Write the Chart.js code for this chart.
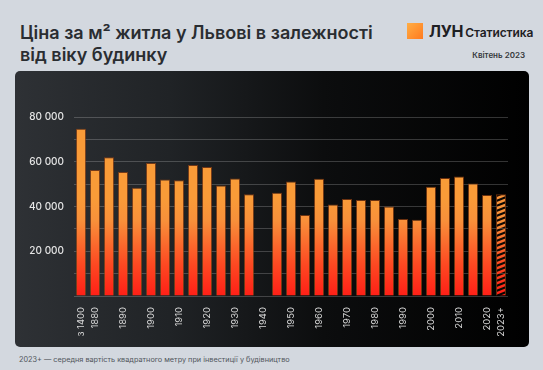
<!DOCTYPE html>
<html>
<head>
<meta charset="utf-8">
<script src="https://cdn.jsdelivr.net/npm/chart.js@4/dist/chart.umd.min.js"></script>
<style>
  body { margin: 0; width: 543px; height: 370px; background: #d3d8df; font-family: Inter, "Noto Sans", sans-serif; position: relative; overflow: hidden; }
  .title { position: absolute; left: 20px; top: 22px; font-size: 18px; font-weight: 600; line-height: 22px; color: #2a2d31; }
  .logo { position: absolute; left: 407px; top: 23px; width: 16px; height: 16px; background: linear-gradient(135deg, #ffae45, #ff7a1e); }
  .brand { position: absolute; left: 429px; top: 21px; font-size: 16px; font-weight: 700; color: #1e2024; letter-spacing: -0.3px; }
  .brand span { font-size: 12px; font-weight: 600; letter-spacing: -0.1px; margin-left: 2px; }
  .date { position: absolute; right: 18px; top: 50px; font-size: 8px; font-weight: 600; color: #35383c; }
  .panel { position: absolute; left: 15px; top: 71px; width: 514px; height: 276px; border-radius: 5px;
    background: linear-gradient(90deg, #2e3135 0%, #202326 30%, #0c0d0e 60%, #000 100%); overflow: hidden; }
  canvas { position: absolute; left: 0; top: 0; }
  .note { position: absolute; left: 19px; top: 355px; font-size: 7.3px; color: #50555b; }
</style>
</head>
<body>
<div class="title">Ціна за м² житла у Львові в залежності<br>від віку будинку</div>
<div class="logo"></div>
<div class="brand">ЛУН<span>Статистика</span></div>
<div class="date">Квітень 2023</div>
<div class="panel"><canvas id="myChart" width="514" height="276"></canvas></div>
<div class="note">2023+ — середня вартість квадратного метру при інвестиції у будівництво</div>

<script>
// periods of construction (5-year steps)
let categories = ['з 1400', '1880', '1885', '1890', '1895', '1900', '1905', '1910', '1915', '1920',
  '1925', '1930', '1935', '1940', '1945', '1950', '1955', '1960', '1965', '1970',
  '1975', '1980', '1985', '1990', '1995', '2000', '2005', '2010', '2015', '2020', '2023+'];

// price per m2, UAH
let prices = [74700, 56300, 62000, 55400, 48400, 59400, 52100, 51700, 58500, 57600,
  49400, 52500, 45500, null, 46200, 51200, 36200, 52400, 40900, 43300,
  42900, 42900, 40000, 34400, 34100, 48800, 52700, 53400, 50300, 45100, 45500];

// which labels are shown under the axis
let shownLabels = ['з 1400', '1880', '1890', '1900', '1910', '1920', '1930', '1940', '1950',
  '1960', '1970', '1980', '1990', '2000', '2010', '2020', '2023+'];

let yTicks = [20000, 40000, 60000, 80000];
let hatchedIndex = categories.indexOf('2023+');

let gradCache, hatchCache;

function barGradient(chart) {
  let area = chart.chartArea;
  if (!area) return '#f99a38';
  if (gradCache) return gradCache;
  let g = chart.ctx.createLinearGradient(0, area.bottom, 0, area.top);
  g.addColorStop(0, '#ff1f17');
  g.addColorStop(0.18, '#fd4a22');
  g.addColorStop(0.42, '#f8903a');
  g.addColorStop(0.55, '#f99b38');
  g.addColorStop(1, '#f99b38');
  gradCache = g;
  return g;
}

function hatchPattern(chart) {
  let area = chart.chartArea;
  if (!area) return '#f99a38';
  if (hatchCache) return hatchCache;
  let c = document.createElement('canvas');
  c.width = chart.width;
  c.height = chart.height;
  let x = c.getContext('2d');
  x.strokeStyle = '#000';
  x.lineWidth = 2.6;
  for (let y0 = 0; y0 < c.height + c.width * 0.4 + 10; y0 += 5) {
    x.beginPath();
    x.moveTo(0, y0);
    x.lineTo(c.width, y0 - c.width * 0.4);
    x.stroke();
  }
  x.globalCompositeOperation = 'source-in';
  let g = x.createLinearGradient(0, area.bottom, 0, area.top);
  g.addColorStop(0, '#ff1f17');
  g.addColorStop(0.18, '#fd4a22');
  g.addColorStop(0.42, '#f8903a');
  g.addColorStop(1, '#f99b38');
  x.fillStyle = g;
  x.fillRect(0, 0, c.width, c.height);
  hatchCache = chart.ctx.createPattern(c, 'no-repeat');
  return hatchCache;
}

// soft glow behind bars
let glowPlugin = {
  id: 'glow',
  beforeDatasetsDraw(chart) {
    chart.ctx.save();
    chart.ctx.shadowColor = 'rgba(255, 160, 60, 0.42)';
    chart.ctx.shadowBlur = 28;
  },
  afterDatasetsDraw(chart) {
    chart.ctx.restore();
  }
};

let ctx = document.getElementById('myChart').getContext('2d');
let myChart = new Chart(ctx, {
  type: 'bar',
  data: {
    labels: categories,
    datasets: [{
      data: prices,
      backgroundColor: (c) => c.dataIndex === hatchedIndex ? hatchPattern(c.chart) : barGradient(c.chart),
      borderColor: 'rgba(140, 60, 15, 0.7)',
      borderWidth: 1,
      barPercentage: 0.72,
      categoryPercentage: 1
    }]
  },
  options: {
    responsive: false,
    animation: false,
    layout: { padding: { top: 46, right: 21, left: 0, bottom: 0 } },
    plugins: { legend: { display: false }, tooltip: { enabled: false } },
    scales: {
      x: {
        grid: { display: false },
        border: { display: false },
        ticks: {
          autoSkip: false,
          maxRotation: 90,
          minRotation: 90,
          padding: 3,
          color: '#d6d6d6',
          font: { family: 'Inter', size: 9.5 },
          callback: (v, i) => shownLabels.includes(categories[i]) ? categories[i] : ''
        },
        afterFit: (s) => { s.height = 51; }
      },
      y: {
        min: 0,
        max: 80000,
        grid: { color: 'rgba(255,255,255,0.2)', drawTicks: false },
        border: { display: false },
        ticks: {
          stepSize: 10000,
          padding: 10,
          color: '#e6e6e6',
          font: { family: 'Inter', size: 10, weight: 500 },
          callback: (v) => yTicks.includes(v) ? String(v).replace(/(\d)(?=(\d{3})+$)/g, '$1 ') : ''
        },
        afterFit: (s) => { s.width = 59; }
      }
    }
  },
  plugins: [glowPlugin]
});
</script>
</body>
</html>
